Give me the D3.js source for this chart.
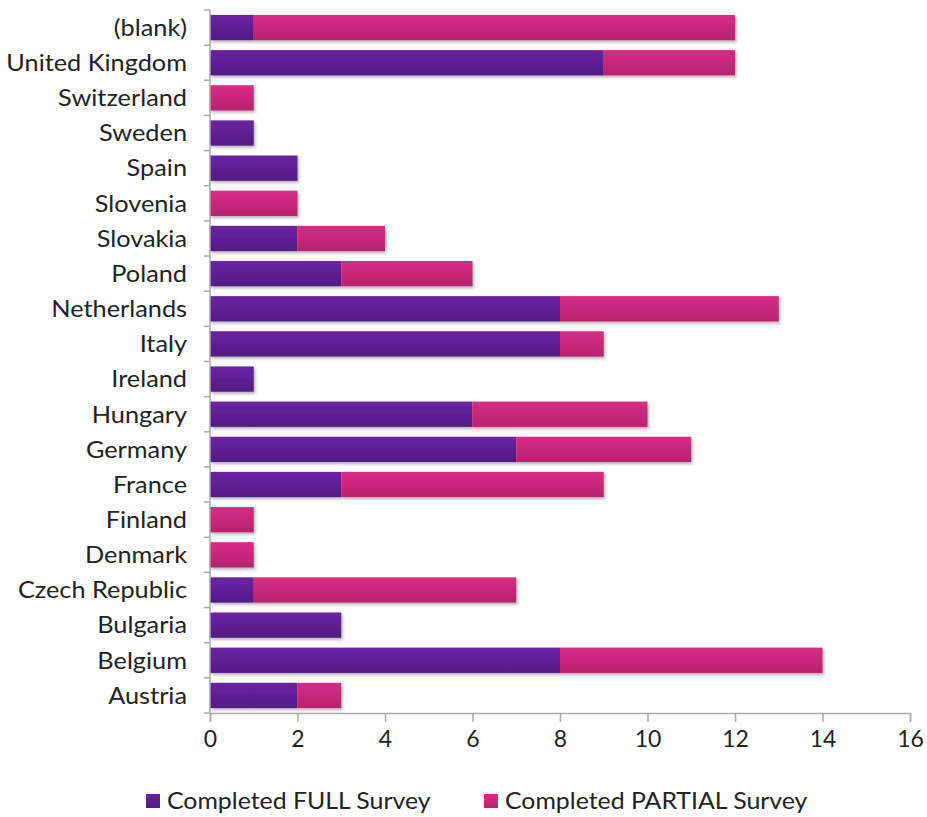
<!DOCTYPE html>
<html><head><meta charset="utf-8">
<script src="https://cdn.jsdelivr.net/npm/d3@7"></script>
<style>body{margin:0;background:#fff}svg{display:block}text{font-family:Lato,"Open Sans",sans-serif;fill:#222}</style>
</head><body>
<svg id="c" width="927" height="817"></svg>
<script>
const categories = ["(blank)","United Kingdom","Switzerland","Sweden","Spain","Slovenia","Slovakia","Poland","Netherlands","Italy","Ireland","Hungary","Germany","France","Finland","Denmark","Czech Republic","Bulgaria","Belgium","Austria"];
const fullSurvey =    [1,9,0,1,2,0,2,3,8,8,1,6,7,3,0,0,1,3,8,2];
const partialSurvey = [11,3,1,0,0,2,2,3,5,1,0,4,4,6,1,1,6,0,6,1];
const xTicks = [0,2,4,6,8,10,12,14,16];
const seriesNames = ["Completed FULL Survey","Completed PARTIAL Survey"];

const svg = d3.select("#c");
const defs = svg.append("defs");
function grad(id, top, bot){
  const g = defs.append("linearGradient").attr("id",id).attr("x1",0).attr("y1",0).attr("x2",0).attr("y2",1);
  g.append("stop").attr("offset","0%").attr("stop-color",top);
  g.append("stop").attr("offset","100%").attr("stop-color",bot);
}
grad("gFull","#6a24a4","#521a84");
grad("gPart","#d82d85","#b8226f");
const f = defs.append("filter").attr("id","sh").attr("x","-5%").attr("y","-20%").attr("width","115%").attr("height","160%");
f.append("feDropShadow").attr("dx",1.5).attr("dy",2).attr("stdDeviation",1.5).attr("flood-color","#000").attr("flood-opacity",0.3);

const L = 210, R = 910, T = 10, B = 713;
const x = d3.scaleLinear().domain([0,16]).range([L,R]);
const y = d3.scaleBand().domain(categories).range([T,B]).paddingInner(0.28).paddingOuter(0.14);

const rows = categories.map((c,i)=>({c, full: fullSurvey[i], part: partialSurvey[i]}));
const g = svg.append("g");
rows.forEach(r=>{
  const gr = g.append("g").attr("filter","url(#sh)");
  if (r.full>0) gr.append("rect").attr("x",x(0)).attr("y",y(r.c)).attr("width",x(r.full)-x(0)).attr("height",y.bandwidth()).attr("fill","url(#gFull)");
  if (r.part>0) gr.append("rect").attr("x",x(r.full)).attr("y",y(r.c)).attr("width",x(r.full+r.part)-x(r.full)).attr("height",y.bandwidth()).attr("fill","url(#gPart)");
});

// x axis
const xa = svg.append("g").attr("transform",`translate(0,${B})`)
  .call(d3.axisBottom(x).tickValues(xTicks).tickSize(9).tickPadding(9).tickFormat(d3.format("d")));
xa.select(".domain").attr("stroke","#aaa").attr("stroke-width",1.5);
xa.selectAll(".tick line").attr("stroke","#aaa").attr("stroke-width",1.5);
xa.selectAll("text").attr("font-size",23).style("fill","#222");

// y axis
const ya = svg.append("g").attr("transform",`translate(${L},0)`);
ya.append("line").attr("x1",0).attr("x2",0).attr("y1",T).attr("y2",B).attr("stroke","#aaa").attr("stroke-width",1.5);
const bounds = d3.range(categories.length+1).map(i=> T + i*(B-T)/categories.length);
ya.selectAll("line.t").data(bounds).join("line").attr("class","t")
  .attr("x1",-6).attr("x2",0).attr("y1",d=>d).attr("y2",d=>d).attr("stroke","#aaa").attr("stroke-width",1.5);
ya.selectAll("text").data(categories).join("text")
  .attr("x",-23).attr("y",d=>y(d)+y.bandwidth()/2).attr("dy","0.36em")
  .attr("text-anchor","end").attr("font-size",23).attr("textLength",null).text(d=>d);
// fit label widths to reference proportions (Gill Sans is wider per height)
ya.selectAll("text").each(function(){ const w=this.getComputedTextLength(); d3.select(this).attr("textLength", w*1.1).attr("lengthAdjust","spacingAndGlyphs"); });

// legend
const lg = svg.append("g");
const items = [{n:seriesNames[0], fill:"url(#gFull)", x:146},{n:seriesNames[1], fill:"url(#gPart)", x:484}];
items.forEach(it=>{
  lg.append("rect").attr("x",it.x).attr("y",794).attr("width",14).attr("height",14).attr("fill",it.fill);
  const t = lg.append("text").attr("x",it.x+21).attr("y",801).attr("dy","0.36em").attr("font-size",23).text(it.n);
  const w = t.node().getComputedTextLength();
  t.attr("textLength", w*1.08).attr("lengthAdjust","spacingAndGlyphs");
});
</script>
</body></html>
